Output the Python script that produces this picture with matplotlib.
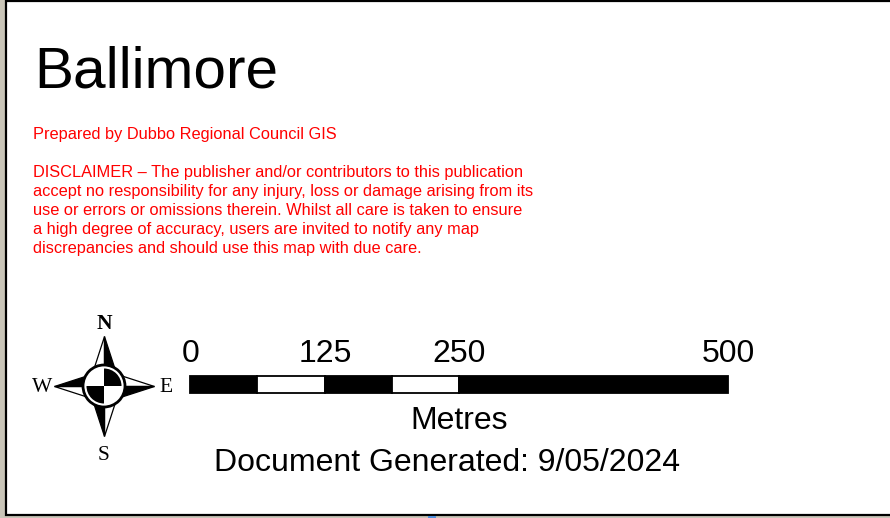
#!/usr/bin/env python3
"""Ballimore map legend panel: title, disclaimer, north arrow and scale bar."""

import matplotlib
matplotlib.use("Agg")
import matplotlib.pyplot as plt
from matplotlib.patches import Circle, Polygon, Rectangle, Wedge

plt.rcParams["font.family"] = ["Liberation Sans", "DejaVu Sans"]

title = "Ballimore"
prepared = "Prepared by Dubbo Regional Council GIS"
disclaimer = [
    "DISCLAIMER \u2013 The publisher and/or contributors to this publication",
    "accept no responsibility for any injury, loss or damage arising from its",
    "use or errors or omissions therein. Whilst all care is taken to ensure",
    "a high degree of accuracy, users are invited to notify any map",
    "discrepancies and should use this map with due care.",
]
scale_labels = [0, 125, 250, 500]
segment_starts = [0, 62.5, 125, 187.5, 250]
segment_ends = [62.5, 125, 187.5, 250, 500]
segment_colors = ["black", "white", "black", "white", "black"]
units = "Metres"
generated = "Document Generated: 9/05/2024"
RED = "#ff0000"


def metres_to_px(m):
    return 190 + m * (728 - 190) / 500


def draw_compass(ax, cx, cy):
    tip = 50
    base = 16
    half = 10.7
    # arms: direction of tip, then side that is black
    arms = [((0, -1), (1, 0)), ((1, 0), (0, 1)), ((0, 1), (-1, 0)), ((-1, 0), (0, -1))]
    for (dx, dy), (sx, sy) in arms:
        tx, ty = cx + dx * tip, cy + dy * tip
        bx, by = cx + dx * base, cy + dy * base
        black = [(tx, ty), (bx, by), (bx + sx * half, by + sy * half)]
        white = [(tx, ty), (bx, by), (bx - sx * half, by - sy * half)]
        ax.add_patch(Polygon(white, closed=True, fc="white", ec="black", lw=0.9, zorder=3))
        ax.add_patch(Polygon(black, closed=True, fc="black", ec="black", lw=0.9, zorder=3))
    ax.add_patch(Circle((cx, cy), 21, fc="white", ec="black", lw=2.0, zorder=4))
    # y axis is inverted, so wedge angles run clockwise on screen
    ax.add_patch(Wedge((cx, cy), 17.5, 270, 360, fc="black", ec="none", zorder=5))
    ax.add_patch(Wedge((cx, cy), 17.5, 90, 180, fc="black", ec="none", zorder=5))
    for lab, x, y in [("N", cx, 324), ("S", cx, 455), ("W", 42, 388), ("E", 166, 388)]:
        ax.text(x, y, lab, family=["Liberation Serif"], fontsize=15.5, ha="center",
                va="center", color="black", fontweight="bold" if lab == "N" else "normal", zorder=6)


def main():
    fig = plt.figure(figsize=(8.9, 5.18), dpi=100, facecolor="#c9c5b8")
    ax = fig.add_axes([0, 0, 1, 1])
    ax.set_xlim(0, 890)
    ax.set_ylim(518, 0)
    ax.axis("off")

    ax.add_patch(Rectangle((6, 0.5), 890, 514.5, fc="white", ec="black", lw=1.6, zorder=1))
    # bit of the map showing under the panel
    ax.add_patch(Rectangle((428, 516), 8, 2, fc="#4f8fdc", ec="none"))

    ax.text(34, 87, title, fontsize=42.1, color="black", ha="left", va="baseline")
    ax.text(33, 138.5, prepared, fontsize=11.8, color=RED, ha="left", va="baseline")
    for i, line in enumerate(disclaimer):
        ax.text(33, 177.5 + i * 18.8, line, fontsize=11.8, color=RED, ha="left", va="baseline")

    draw_compass(ax, 104, 386)

    for start, end, col in zip(segment_starts, segment_ends, segment_colors):
        x0, x1 = metres_to_px(start), metres_to_px(end)
        ax.add_patch(Rectangle((x0, 375.5), x1 - x0, 17.5, fc=col, ec="black", lw=1.3, zorder=2))
    for val in scale_labels:
        ax.text(metres_to_px(val) + (1 if val == 125 else 0.5), 362, str(val), fontsize=23,
                color="black", ha="center", va="baseline")

    ax.text(459, 429, units, fontsize=23, color="black", ha="center", va="baseline")
    ax.text(447, 471, generated, fontsize=23, color="black", ha="center", va="baseline")

    fig.savefig("out.png", dpi=100, facecolor=fig.get_facecolor())
    plt.close(fig)


if __name__ == "__main__":
    main()
